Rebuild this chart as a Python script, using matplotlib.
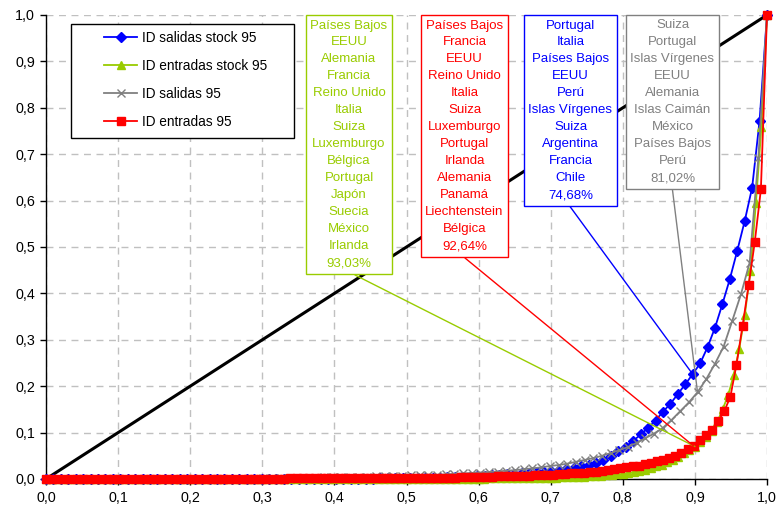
import numpy as np
import matplotlib
matplotlib.use("Agg")
import matplotlib.pyplot as plt
from matplotlib.ticker import FuncFormatter
from matplotlib.patches import Rectangle

plt.rcParams['font.family'] = ['Liberation Sans', 'DejaVu Sans']

# ---------------- data (cumulative shares) ----------------
salidas_stock = [
    0.0, 0.0, 0.0, 0.0, 0.0, 0.0, 0.0, 0.0, 0.0, 0.0,
    0.0, 0.0, 0.0, 0.0, 0.0, 0.0, 0.0, 0.0, 0.0, 0.0,
    0.0, 0.0, 0.0, 0.0, 0.0,
    0.001, 0.001, 0.001, 0.001, 0.001, 0.001, 0.001, 0.001, 0.001, 0.001,
    0.001, 0.001, 0.001, 0.001, 0.001, 0.001, 0.001, 0.001, 0.001, 0.001,
    0.002, 0.002, 0.002, 0.002, 0.002,
    0.003, 0.003, 0.003, 0.003,
    0.004, 0.004, 0.005, 0.005, 0.006, 0.007, 0.008, 0.009, 0.010, 0.011,
    0.012, 0.013, 0.015, 0.016, 0.017, 0.019,
    0.021, 0.024, 0.027, 0.030, 0.035, 0.042, 0.050, 0.060, 0.070, 0.082,
    0.096, 0.110, 0.126, 0.145, 0.162, 0.183, 0.204, 0.226, 0.249, 0.284,
    0.326, 0.377, 0.431, 0.492, 0.556, 0.628, 0.772, 1.0,
]

entradas_stock = [
    0.0, 0.0, 0.0, 0.0, 0.0, 0.0, 0.0, 0.0, 0.0, 0.0,
    0.0, 0.0, 0.0, 0.0, 0.0, 0.0, 0.0, 0.0, 0.0, 0.0,
    0.0, 0.0, 0.0, 0.0, 0.0, 0.0, 0.0, 0.0, 0.0, 0.0,
    0.0, 0.0, 0.0, 0.0, 0.0, 0.0, 0.0, 0.0, 0.0, 0.0,
    0.0, 0.0, 0.0, 0.0, 0.0, 0.0, 0.0, 0.0, 0.0, 0.0,
    0.0, 0.0, 0.0, 0.0, 0.0, 0.0, 0.0, 0.0, 0.0, 0.0,
    0.001, 0.001, 0.001, 0.001, 0.001, 0.001, 0.001, 0.001, 0.001, 0.001,
    0.001, 0.001, 0.001, 0.001, 0.001, 0.001, 0.001, 0.001, 0.001, 0.001,
    0.002, 0.002, 0.002, 0.002, 0.002, 0.002, 0.002, 0.002,
    0.003, 0.003, 0.003, 0.003, 0.003,
    0.004, 0.004, 0.004, 0.005, 0.005, 0.006, 0.006,
    0.007, 0.008, 0.009, 0.010, 0.011, 0.013, 0.015, 0.017, 0.020, 0.023,
    0.027, 0.031, 0.036, 0.042, 0.048, 0.055, 0.062, 0.070, 0.079, 0.090,
    0.104, 0.122, 0.150, 0.181, 0.224, 0.281, 0.353, 0.448, 0.595, 0.759,
    1.0,
]

salidas = [
    0.0, 0.0, 0.0, 0.0, 0.0, 0.0, 0.0, 0.0, 0.0, 0.0,
    0.0, 0.0, 0.0, 0.0, 0.0,
    0.001, 0.001, 0.001, 0.001, 0.001, 0.001, 0.001, 0.001, 0.001, 0.001,
    0.002, 0.002, 0.002, 0.002,
    0.003, 0.003, 0.003, 0.004, 0.004, 0.004, 0.005, 0.005, 0.005,
    0.006, 0.006, 0.007, 0.007, 0.008, 0.008, 0.009, 0.009,
    0.010, 0.011, 0.012, 0.013, 0.014, 0.015, 0.016, 0.018, 0.019, 0.021,
    0.023, 0.025, 0.028, 0.030, 0.033, 0.037, 0.041, 0.045, 0.050, 0.056,
    0.062, 0.069, 0.078, 0.088, 0.098, 0.110, 0.127, 0.146, 0.165, 0.187,
    0.215, 0.248, 0.285, 0.341, 0.398, 0.466, 0.691, 1.0,
]

entradas = [
    0.0, 0.0, 0.0, 0.0, 0.0, 0.0, 0.0, 0.0, 0.0, 0.0,
    0.0, 0.0, 0.0, 0.0, 0.0, 0.0, 0.0, 0.0, 0.0, 0.0,
    0.0, 0.0, 0.0, 0.0, 0.0,
    0.001, 0.001, 0.001, 0.001, 0.001, 0.001, 0.001, 0.001, 0.001, 0.001,
    0.001, 0.001, 0.001, 0.001, 0.001,
    0.002, 0.002, 0.002, 0.002, 0.002, 0.002, 0.002, 0.002,
    0.002, 0.002, 0.002, 0.002, 0.002, 0.002, 0.002, 0.002,
    0.003, 0.003, 0.003, 0.003, 0.003, 0.003, 0.003, 0.003, 0.003, 0.003,
    0.003, 0.003,
    0.004, 0.004, 0.005, 0.005, 0.005, 0.005, 0.006, 0.006, 0.006,
    0.007, 0.007, 0.007, 0.008, 0.008, 0.009, 0.009,
    0.010, 0.011, 0.012, 0.013, 0.014, 0.015, 0.016, 0.018, 0.019, 0.021,
    0.023, 0.025, 0.027, 0.029, 0.032, 0.035, 0.038, 0.041, 0.0445, 0.050,
    0.055, 0.064, 0.071, 0.083, 0.095, 0.106, 0.124, 0.146, 0.177, 0.246,
    0.330, 0.418, 0.511, 0.624, 1.0,
]

series_labels = ["ID salidas stock 95", "ID entradas stock 95", "ID salidas 95", "ID entradas 95"]

box_verde = ["Países Bajos", "EEUU", "Alemania", "Francia", "Reino Unido", "Italia", "Suiza",
             "Luxemburgo", "Bélgica", "Portugal", "Japón", "Suecia", "México", "Irlanda", "93,03%"]
box_rojo = ["Países Bajos", "Francia", "EEUU", "Reino Unido", "Italia", "Suiza", "Luxemburgo",
            "Portugal", "Irlanda", "Alemania", "Panamá", "Liechtenstein", "Bélgica", "92,64%"]
box_azul = ["Portugal", "Italia", "Países Bajos", "EEUU", "Perú", "Islas Vírgenes", "Suiza",
            "Argentina", "Francia", "Chile", "74,68%"]
box_gris = ["Suiza", "Portugal", "Islas Vírgenes", "EEUU", "Alemania", "Islas Caimán", "México",
            "Países Bajos", "Perú", "81,02%"]

ticks = [0.0, 0.1, 0.2, 0.3, 0.4, 0.5, 0.6, 0.7, 0.8, 0.9, 1.0]

# ---------------- styles ----------------
C_BLUE = "#0000FF"
C_GREEN = "#99CC00"
C_GRAY = "#808080"
C_RED = "#FF0000"

fig = plt.figure(figsize=(7.8, 5.17), dpi=100)
W, H = 780, 517
x0, x1, y0, y1 = 46, 767, 15, 479
ax = fig.add_axes([x0 / W, 1 - y1 / H, (x1 - x0) / W, (y1 - y0) / H])
ax.set_xlim(0, 1)
ax.set_ylim(0, 1)

# grid
ax.set_axisbelow(True)
ax.grid(True, color="#C0C0C0", linestyle=(0, (5, 4)), linewidth=1.0)
for s in ["top", "right"]:
    ax.spines[s].set_visible(False)
for s in ["left", "bottom"]:
    ax.spines[s].set_color("#000000")
    ax.spines[s].set_linewidth(1.0)
    ax.spines[s].set_zorder(2.5)
ax.set_xticks(ticks)
ax.set_yticks(ticks)
fmt = FuncFormatter(lambda v, p: f"{v:.1f}".replace(".", ","))
ax.xaxis.set_major_formatter(fmt)
ax.yaxis.set_major_formatter(fmt)
ax.tick_params(axis="both", direction="out", length=4, width=1, labelsize=10.3, colors="#000000")
ax.tick_params(axis="x", pad=5)
ax.tick_params(axis="y", pad=4)

# diagonal (equidistribution line)
ax.plot([0, 1], [0, 1], color="black", linewidth=2.2, zorder=2)

def xs(y):
    return np.linspace(0, 1, len(y))

l1, = ax.plot(xs(salidas_stock), salidas_stock, color=C_BLUE, lw=1.3, marker="D", ms=4.6,
              mec=C_BLUE, mfc=C_BLUE, zorder=3, label=series_labels[0], clip_on=False)
l2, = ax.plot(xs(entradas_stock), entradas_stock, color=C_GREEN, lw=1.3, marker="^", ms=6.2,
              mec=C_GREEN, mfc=C_GREEN, zorder=4, label=series_labels[1], clip_on=False)
l3, = ax.plot(xs(salidas), salidas, color=C_GRAY, lw=1.3, marker="x", ms=6, mew=1.0,
              zorder=5, label=series_labels[2], clip_on=False)
l4, = ax.plot(xs(entradas), entradas, color=C_RED, lw=1.3, marker="s", ms=5.2,
              mec=C_RED, mfc=C_RED, zorder=6, label=series_labels[3], clip_on=False)

# legend with a manual frame
def px2ax(px, py):
    return (px - x0) / (x1 - x0), (y1 - py) / (y1 - y0)

lx, ly = px2ax(71, 138)
rx, ry = px2ax(294, 24)
ax.add_patch(Rectangle((lx, ly), rx - lx, ry - ly, transform=ax.transAxes, facecolor="white",
                       edgecolor="black", linewidth=1.0, zorder=8))
leg = ax.legend(handles=[l1, l2, l3, l4], loc="upper left",
                bbox_to_anchor=px2ax(97, 24), frameon=False, fontsize=9.8,
                handlelength=2.45, handletextpad=0.3, labelspacing=1.02, borderpad=0.52,
                borderaxespad=0, numpoints=1)
leg.set_zorder(9)

# callout boxes
boxes = [
    (box_verde, C_GREEN, 349, l2, 117, (355, 275)),
    (box_rojo, C_RED, 464.5, l4, 106, (465, 258)),
    (box_azul, C_BLUE, 570.5, l1, 87, (570, 206.5)),
    (box_gris, C_GRAY, 672.5, l3, 75, (672.5, 190)),
]
for lines, col, cx, ln, idx, start in boxes:
    xd = ln.get_xdata()[idx]
    yd = ln.get_ydata()[idx]
    sx, sy = px2ax(*start)
    ax.annotate("", xy=(xd, yd), xytext=(sx, sy), textcoords="axes fraction",
                arrowprops=dict(arrowstyle="-", color=col, lw=1.0, shrinkA=0, shrinkB=0),
                zorder=7)
    tx, ty = px2ax(cx, 19.5)
    ax.text(tx, ty, "\n".join(lines), transform=ax.transAxes, ha="center", va="top",
            color=col, fontsize=9.5, linespacing=1.555, zorder=10,
            bbox=dict(boxstyle="square,pad=0.32", facecolor="white", edgecolor=col, linewidth=1.0))

fig.savefig("out.png", dpi=100)
